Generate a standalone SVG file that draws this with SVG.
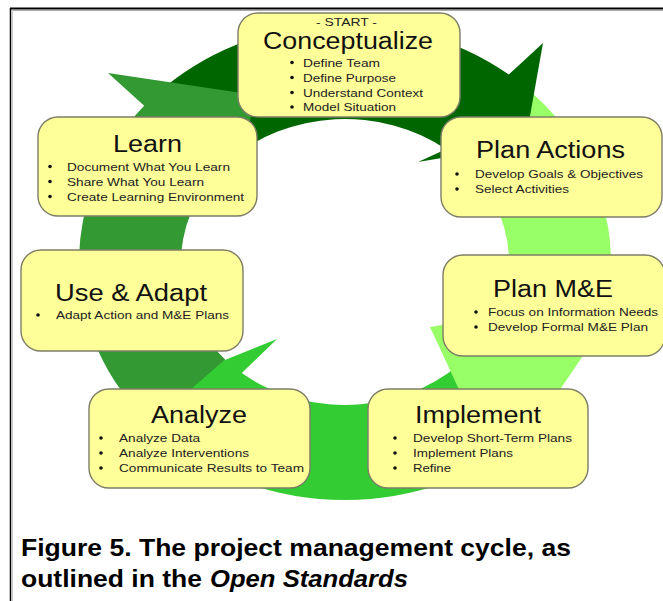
<svg xmlns="http://www.w3.org/2000/svg" width="663" height="601" viewBox="0 0 663 601">
<style>
.box{fill:#ffff99;stroke:#7d7d66;stroke-width:1.4}
.t{font-family:"Liberation Sans",Arial,sans-serif;font-size:23px;fill:#111}
.b{font-family:"Liberation Sans",Arial,sans-serif;font-size:11.5px;fill:#222}
.s{font-family:"Liberation Sans",Arial,sans-serif;font-size:10.5px;fill:#222}
.d{fill:#111}
.cap{font-family:"Liberation Sans",Arial,sans-serif;font-size:24px;font-weight:bold;fill:#000}
</style>
<rect x="0" y="0" width="663" height="601" fill="#fff"/>
<g id="frame" fill="none">
<line x1="10" y1="8.5" x2="663" y2="8.5" stroke="#000" stroke-width="2"/>
<line x1="10.5" y1="8" x2="10.5" y2="601" stroke="#000" stroke-width="1.5"/>
<line x1="12" y1="10.5" x2="663" y2="10.5" stroke="#aaa" stroke-width="1"/>
<line x1="12.5" y1="10" x2="12.5" y2="601" stroke="#ccc" stroke-width="1"/>
</g>
<g id="connectors">
<path id="arrow-implement-analyze" fill="#33cc33" d="M548.8,415 A266,238 0 0 1 177.6,447 L162,466.5 L170,382 L277,339 L241.8,373.1 A164,143 0 0 0 470.6,353.9 Z"/>
<path id="arrow-planactions-implement" fill="#99ff66" d="M516,79.7 A266,238 0 0 1 599.4,331.6 L500,478 L430,327 L497.1,315.6 A164,143 0 0 0 450.4,152.5 Z"/>
<path id="arrow-concept-planactions" fill="#006600" d="M156.9,93.7 A266,238 0 0 1 508.8,74.5 L543,43 L525,144 L418,162 L446,149.3 A164,143 0 0 0 229,160.9 Z"/>
<path id="arrow-analyze-concept" fill="#339933" d="M150.5,424.3 A266,238 0 0 1 144.2,105.8 L108,73 L255,95 L235,200 L221.2,168.2 A164,143 0 0 0 225.1,359.5 Z"/>
</g>
<g id="conceptualize">
<rect class="box" x="238" y="13" width="222" height="104" rx="20"/>
<text class="s" x="316" y="26" textLength="61" lengthAdjust="spacingAndGlyphs">- START -</text>
<text class="t" x="263" y="49" textLength="170" lengthAdjust="spacingAndGlyphs">Conceptualize</text>
<circle class="d" cx="292" cy="62.5" r="1.8"/><text class="b" x="303" y="66.5" textLength="77" lengthAdjust="spacingAndGlyphs">Define Team</text>
<circle class="d" cx="292" cy="77.5" r="1.8"/><text class="b" x="303" y="81.5" textLength="93" lengthAdjust="spacingAndGlyphs">Define Purpose</text>
<circle class="d" cx="292" cy="92.5" r="1.8"/><text class="b" x="303" y="96.5" textLength="120" lengthAdjust="spacingAndGlyphs">Understand Context</text>
<circle class="d" cx="292" cy="107" r="1.8"/><text class="b" x="303" y="111" textLength="93" lengthAdjust="spacingAndGlyphs">Model Situation</text>
</g>
<g id="learn">
<rect class="box" x="38" y="117" width="219" height="99" rx="20"/>
<text class="t" x="113" y="152" textLength="69" lengthAdjust="spacingAndGlyphs">Learn</text>
<circle class="d" cx="50" cy="166.5" r="1.8"/><text class="b" x="67" y="170.5" textLength="163" lengthAdjust="spacingAndGlyphs">Document What You Learn</text>
<circle class="d" cx="50" cy="181.5" r="1.8"/><text class="b" x="67" y="185.5" textLength="137" lengthAdjust="spacingAndGlyphs">Share What You Learn</text>
<circle class="d" cx="50" cy="196.5" r="1.8"/><text class="b" x="67" y="200.5" textLength="177" lengthAdjust="spacingAndGlyphs">Create Learning Environment</text>
</g>
<g id="plan-actions">
<rect class="box" x="441" y="117" width="221" height="100" rx="20"/>
<text class="t" x="476" y="158" textLength="149" lengthAdjust="spacingAndGlyphs">Plan Actions</text>
<circle class="d" cx="457" cy="174" r="1.8"/><text class="b" x="475" y="178" textLength="168" lengthAdjust="spacingAndGlyphs">Develop Goals &amp; Objectives</text>
<circle class="d" cx="457" cy="189" r="1.8"/><text class="b" x="475" y="193" textLength="94" lengthAdjust="spacingAndGlyphs">Select Activities</text>
</g>
<g id="use-adapt">
<rect class="box" x="21" y="250" width="222" height="101" rx="20"/>
<text class="t" x="55" y="300.5" textLength="152" lengthAdjust="spacingAndGlyphs">Use &amp; Adapt</text>
<circle class="d" cx="38" cy="315" r="1.8"/><text class="b" x="56" y="319" textLength="173" lengthAdjust="spacingAndGlyphs">Adapt Action and M&amp;E Plans</text>
</g>
<g id="plan-me">
<rect class="box" x="443" y="255" width="222" height="101" rx="20"/>
<text class="t" x="493" y="297" textLength="120" lengthAdjust="spacingAndGlyphs">Plan M&amp;E</text>
<circle class="d" cx="476" cy="312" r="1.8"/><text class="b" x="488" y="316" textLength="170" lengthAdjust="spacingAndGlyphs">Focus on Information Needs</text>
<circle class="d" cx="476" cy="327" r="1.8"/><text class="b" x="488" y="331" textLength="160" lengthAdjust="spacingAndGlyphs">Develop Formal M&amp;E Plan</text>
</g>
<g id="analyze">
<rect class="box" x="89" y="389" width="221" height="99" rx="20"/>
<text class="t" x="151" y="423" textLength="96" lengthAdjust="spacingAndGlyphs">Analyze</text>
<circle class="d" cx="101" cy="438" r="1.8"/><text class="b" x="119" y="442" textLength="81" lengthAdjust="spacingAndGlyphs">Analyze Data</text>
<circle class="d" cx="101" cy="453" r="1.8"/><text class="b" x="119" y="457" textLength="130" lengthAdjust="spacingAndGlyphs">Analyze Interventions</text>
<circle class="d" cx="101" cy="468" r="1.8"/><text class="b" x="119" y="472" textLength="185" lengthAdjust="spacingAndGlyphs">Communicate Results to Team</text>
</g>
<g id="implement">
<rect class="box" x="368" y="389" width="220" height="99" rx="20"/>
<text class="t" x="415" y="423" textLength="126" lengthAdjust="spacingAndGlyphs">Implement</text>
<circle class="d" cx="395" cy="438" r="1.8"/><text class="b" x="413" y="442" textLength="159" lengthAdjust="spacingAndGlyphs">Develop Short-Term Plans</text>
<circle class="d" cx="395" cy="453" r="1.8"/><text class="b" x="413" y="457" textLength="100" lengthAdjust="spacingAndGlyphs">Implement Plans</text>
<circle class="d" cx="395" cy="468" r="1.8"/><text class="b" x="413" y="472" textLength="38" lengthAdjust="spacingAndGlyphs">Refine</text>
</g>
<g id="caption">
<text class="cap" x="21" y="556" textLength="550" lengthAdjust="spacingAndGlyphs">Figure 5. The project management cycle, as</text>
<text class="cap" x="21" y="587" textLength="181" lengthAdjust="spacingAndGlyphs">outlined in the</text>
<text class="cap" x="210" y="587" font-style="italic" textLength="198" lengthAdjust="spacingAndGlyphs">Open Standards</text>
</g>
</svg>
